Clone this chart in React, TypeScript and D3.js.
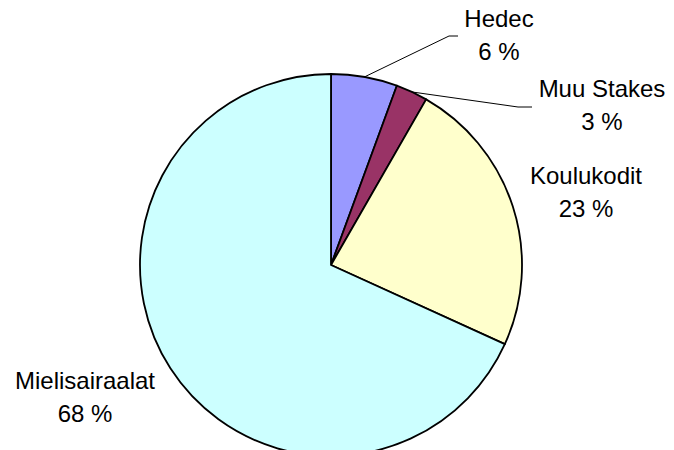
import React from "react";
import * as d3 from "d3";

const categories = ["Hedec", "Muu Stakes", "Koulukodit", "Mielisairaalat"];
const values = [5.6, 2.7, 23.5, 68.2];
const percentLabels = ["6 %", "3 %", "23 %", "68 %"];
const colors = ["#9999FF", "#993366", "#FFFFCC", "#CCFFFF"];

const W = 674;
const H = 450;
const cx = 331;
const cy = 265;
const R = 191;

// label anchor positions (center x, baseline of first line)
const labelPos: [number, number][] = [
  [499, 27],
  [602, 97],
  [586, 184],
  [85, 389],
];

export default function App() {
  const pie = d3
    .pie<number>()
    .sort(null)
    .value((d) => d)
    .startAngle(0)
    .endAngle(2 * Math.PI);
  const arcs = pie(values);
  const arcGen = d3.arc<d3.PieArcDatum<number>>().innerRadius(0).outerRadius(R);

  // leader lines for small slices
  const leader = (i: number, endX: number, endY: number, tail: number) => {
    const a = arcs[i];
    const mid = (a.startAngle + a.endAngle) / 2;
    const sx = cx + Math.sin(mid) * R;
    const sy = cy - Math.cos(mid) * R;
    return `M${sx},${sy}L${endX},${endY}L${endX + tail},${endY}`;
  };

  return (
    <svg
      width={W}
      height={H}
      style={{ position: "absolute", left: 0, top: 0, background: "#fff" }}
    >
      <g transform={`translate(${cx},${cy})`}>
        {arcs.map((a, i) => (
          <path
            key={categories[i]}
            d={arcGen(a) || ""}
            fill={colors[i]}
            stroke="#000"
            strokeWidth={1.8}
            strokeLinejoin="round"
          />
        ))}
      </g>
      <path d={leader(0, 449, 36, 9)} fill="none" stroke="#000" strokeWidth={1} />
      <path d={leader(1, 518, 107, 14)} fill="none" stroke="#000" strokeWidth={1} />
      {categories.map((c, i) => (
        <text
          key={c}
          x={labelPos[i][0]}
          y={labelPos[i][1]}
          textAnchor="middle"
          fontFamily="Liberation Sans, Arial, sans-serif"
          fontSize={24}
          fill="#000"
        >
          <tspan x={labelPos[i][0]}>{c}</tspan>
          <tspan x={labelPos[i][0]} dy={33}>
            {percentLabels[i]}
          </tspan>
        </text>
      ))}
    </svg>
  );
}
